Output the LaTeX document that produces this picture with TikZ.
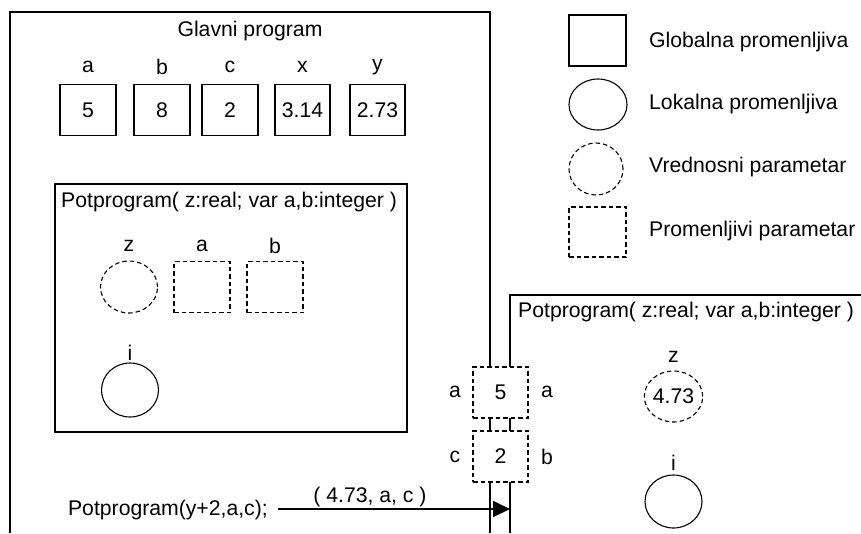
\documentclass[tikz,border=0pt]{standalone}
\usepackage{fontspec}
\setmainfont{Liberation Sans}
\usetikzlibrary{arrows.meta,shapes.geometric}
\begin{document}
\begin{tikzpicture}[x=1pt,y=-1pt,
  every node/.style={font=\fontsize{21.2}{25}\selectfont, inner sep=0pt},
  frame/.style={line width=1.8pt},
  gvar/.style={draw, line width=1.1pt, minimum width=56pt, minimum height=51pt},
  pvar/.style={draw, line width=1.1pt, dash pattern=on 4.5pt off 3pt, fill=white, minimum width=56pt, minimum height=51pt},
  lvar/.style={draw, ellipse, line width=1.1pt, minimum width=57pt, minimum height=53pt},
  vvar/.style={draw, ellipse, line width=1.1pt, dash pattern=on 4.5pt off 3pt, minimum width=56pt, minimum height=52pt},
  lbl/.style={},
  ttl/.style={anchor=west}
]
\useasboundingbox (0,0) rectangle (861,533);

% main program frame
\coordinate (mbl) at (10,533);
\coordinate (mtl) at (10,12);
\coordinate (mtr) at (490,12);
\coordinate (mbr) at (490,533);
\draw[frame] (mbl) -- (mtl) -- (mtr) -- (mbr);
\node (gtitle) at (250,31) {Glavni program};

% global variables
\node[gvar] (ga) at (88,110) {5};
\node[gvar] (gb) at (162,110) {8};
\node[gvar] (gc) at (230,110) {2};
\node[gvar, minimum width=55pt] (gx) at (302.5,110) {3.14};
\node[gvar, minimum width=55pt] (gy) at (377.5,110) {2.73};
\node[lbl] (lga) at (88,67) {a};
\node[lbl] (lgb) at (162,67) {b};
\node[lbl] (lgc) at (230,67) {c};
\node[lbl] (lgx) at (302.5,67) {x};
\node[lbl] (lgy) at (377.5,67) {y};

% inner subprogram declaration
\node[draw, frame, minimum width=352pt, minimum height=248pt] (sub1) at (231,308) {};
\node[ttl] (sub1t) at (61,202) {Potprogram( z:real; var a,b:integer )};
\node[vvar, minimum width=57pt] (s1z) at (129,287) {};
\node[pvar] (s1a) at (202,287) {};
\node[pvar] (s1b) at (275,287) {};
\node[lbl] (ls1z) at (129,246) {z};
\node[lbl] (ls1a) at (202,246) {a};
\node[lbl] (ls1b) at (275,246) {b};
\node[lvar, minimum height=54pt] (s1i) at (130,390) {};
\node[lbl, anchor=base] (ls1i) at (130,360) {i};

% legend
\node[gvar, minimum width=57pt] (leg1) at (597.5,40.5) {};
\node[lvar, minimum width=58pt, minimum height=51pt] (leg2) at (598,104.5) {};
\node[vvar, minimum width=54pt] (leg3) at (596,169) {};
\node[pvar, minimum width=57pt, minimum height=50pt] (leg4) at (597.5,232) {};
\node[ttl] (legt1) at (649,42) {Globalna promenljiva};
\node[ttl] (legt2) at (649,104) {Lokalna promenljiva};
\node[ttl] (legt3) at (649,167) {Vrednosni parametar};
\node[ttl] (legt4) at (649,231) {Promenljivi parametar};

% activated subprogram frame
\coordinate (stl) at (510,295);
\coordinate (str) at (861,295);
\coordinate (sbl) at (510,533);
\draw[frame] (sbl) -- (stl) -- (str);
\node[ttl] (sub2t) at (518,312) {Potprogram( z:real; var a,b:integer )};
\node[vvar, minimum width=57pt, minimum height=51pt] (s2z) at (673.5,396.5) {4.73};
\node[lbl] (ls2z) at (673.5,357) {z};
\node[lvar, minimum height=53pt] (s2i) at (673.5,501.5) {};
\node[lbl, anchor=base] (ls2i) at (673.5,470) {i};

% shared parameter boxes
\node[pvar, minimum width=55pt] (p1) at (500.5,392.5) {5};
\node[pvar, minimum width=55pt] (p2) at (500.5,456.5) {2};
\node[lbl] (lp1l) at (455,392) {a};
\node[lbl] (lp1r) at (547,392) {a};
\node[lbl] (lp2l) at (455,457) {c};
\node[lbl] (lp2r) at (547,457) {b};

% call
\node[anchor=east] (call) at (268,510) {Potprogram(y+2,a,c);};
\coordinate (tip) at (510,509);
\draw[line width=1.8pt, -{Triangle[length=17pt,width=16pt]}] (call.east |- tip) ++(10,0) -- (tip);
\node (args) at (370,497) {( 4.73, a, c )};
\end{tikzpicture}
\end{document}
